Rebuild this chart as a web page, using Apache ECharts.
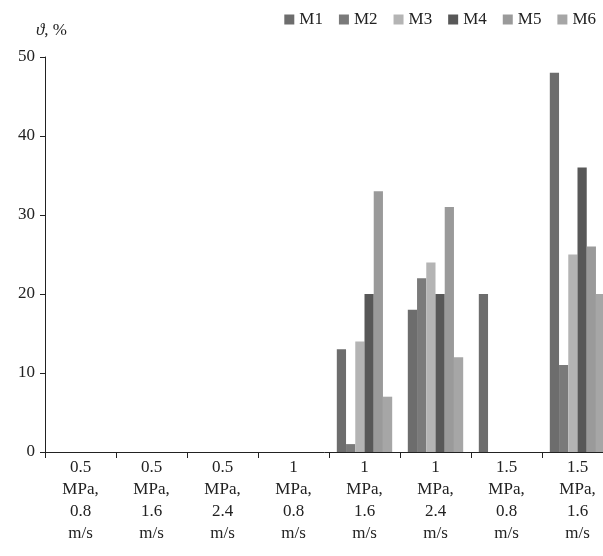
<!DOCTYPE html>
<html lang="en" style="height: 100%">
<head>
  <meta charset="utf-8">
  <title>Bar chart</title>
</head>
<body style="height: 100%; margin: 0; background: #fff">
  <div id="container" style="height: 100%"></div>
  <script src="https://cdn.jsdelivr.net/npm/echarts@6/dist/echarts.min.js"></script>
  <script>
    var categories = ['0.5\nMPa,\n0.8\nm/s', '0.5\nMPa,\n1.6\nm/s', '0.5\nMPa,\n2.4\nm/s', '1\nMPa,\n0.8\nm/s',
      '1\nMPa,\n1.6\nm/s', '1\nMPa,\n2.4\nm/s', '1.5\nMPa,\n0.8\nm/s', '1.5\nMPa,\n1.6\nm/s'];
    var seriesNames = ['M1', 'M2', 'M3', 'M4', 'M5', 'M6'];
    var colors = ['#6d6d6d', '#7a7a7a', '#b4b4b4', '#585858', '#9a9a9a', '#a6a6a6'];
    var m1 = [0, 0, 0, 0, 13, 18, 20, 48];
    var m2 = [0, 0, 0, 0, 1, 22, 0, 11];
    var m3 = [0, 0, 0, 0, 14, 24, 0, 25];
    var m4 = [0, 0, 0, 0, 20, 20, 0, 36];
    var m5 = [0, 0, 0, 0, 33, 31, 0, 26];
    var m6 = [0, 0, 0, 0, 7, 12, 0, 20];
    var values = [m1, m2, m3, m4, m5, m6];

    var font = '"Liberation Serif", "Times New Roman", serif';
    var myChart = echarts.init(document.getElementById('container'));
    var option = {
      textStyle: { fontFamily: font },
      legend: {
        top: 6, right: 2, itemWidth: 10, itemHeight: 10, itemGap: 16,
        textStyle: { fontFamily: font, fontSize: 17, color: '#222' },
        data: seriesNames.map(function (n) { return { name: n, icon: 'rect' }; })
      },
      grid: { left: 45, right: -10, top: 57, bottom: 104, outerBoundsMode: 'none', containLabel: false },
      xAxis: {
        type: 'category', data: categories,
        axisLine: { lineStyle: { color: '#222' } },
        axisTick: { show: true, length: 6, inside: false, lineStyle: { color: '#222' } },
        axisLabel: { fontFamily: font, fontSize: 17, color: '#222', lineHeight: 22, margin: 5, interval: 0 }
      },
      yAxis: {
        type: 'value', min: 0, max: 50, interval: 10,
        name: '{i|ϑ}, %', nameLocation: 'end', nameGap: 18,
        nameTextStyle: { fontFamily: font, fontSize: 17, color: '#222', align: 'right', padding: [0, -22, 0, 0],
          rich: { i: { fontStyle: 'italic', fontFamily: font, fontSize: 17, color: '#222' } } },
        axisLine: { show: true, lineStyle: { color: '#222' } },
        axisTick: { show: true, length: 5, inside: false, lineStyle: { color: '#222' } },
        splitLine: { show: false },
        axisLabel: { fontFamily: font, fontSize: 17, color: '#222', margin: 10 }
      },
      series: seriesNames.map(function (n, i) {
        return {
          name: n, type: 'bar', data: values[i], barGap: '0%', barCategoryGap: '22%',
          itemStyle: { color: colors[i] }
        };
      })
    };
    myChart.setOption(option);
    window.addEventListener('resize', function () { myChart.resize(); });
  </script>
</body>
</html>
